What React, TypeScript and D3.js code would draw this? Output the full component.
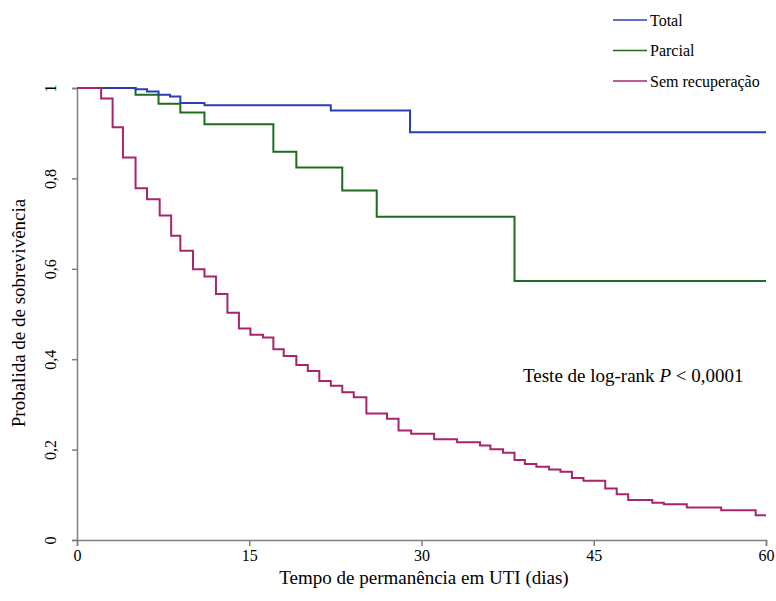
import React, { useEffect, useRef } from 'react';
import * as d3 from 'd3';

// Kaplan-Meier steps (days, survival)
const totalDays = [0, 5.1, 6.1, 7.1, 8.1, 9.0, 11.1, 22.1, 29.0, 60];
const totalSurv = [1, 0.997, 0.992, 0.985, 0.981, 0.967, 0.962, 0.95, 0.902, 0.902];

const parcialDays = [0, 5.1, 7.1, 9.0, 11.1, 17.1, 19.1, 23.1, 26.1, 38.1, 60];
const parcialSurv = [1, 0.985, 0.965, 0.946, 0.92, 0.859, 0.824, 0.773, 0.715, 0.573, 0.573];

const semDays = [0, 2.1, 3.1, 4.0, 5.1, 6.1, 7.2, 8.2, 9.0, 10.1, 11.1, 12.1, 13.1, 14.1, 15.1, 16.2,
  17.1, 18.0, 19.1, 20.1, 21.1, 22.1, 23.1, 24.1, 25.2, 27.0, 28.0, 29.1, 31.1, 33.1, 35.1, 36.0,
  37.1, 38.1, 39.0, 40.0, 41.1, 42.1, 43.1, 44.1, 46.0, 47.0, 48.0, 50.1, 51.1, 53.1, 56.1, 59.1, 60];
const semSurv = [1, 0.977, 0.913, 0.846, 0.778, 0.754, 0.718, 0.673, 0.64, 0.599, 0.583, 0.544, 0.503,
  0.468, 0.454, 0.448, 0.422, 0.407, 0.387, 0.374, 0.352, 0.341, 0.327, 0.316, 0.28, 0.268, 0.242,
  0.235, 0.223, 0.216, 0.209, 0.201, 0.193, 0.177, 0.168, 0.162, 0.156, 0.151, 0.137, 0.131, 0.114,
  0.101, 0.0885, 0.0826, 0.079, 0.072, 0.066, 0.055, 0.055];

const seriesNames = ['Total', 'Parcial', 'Sem recuperação'];
const seriesColors = ['#2a3fb4', '#1f6b1f', '#a8246c'];
const xTicks = [0, 15, 30, 45, 60];
const yTicks = [0, 0.2, 0.4, 0.6, 0.8, 1];

const App = () => {
  const svgRef = useRef(null);

  useEffect(() => {
    const svg = d3.select(svgRef.current);
    svg.selectAll('*').remove();
    const font = '"Liberation Serif", "Times New Roman", serif';

    const x = d3.scaleLinear().domain([0, 60]).range([77, 766]);
    const y = d3.scaleLinear().domain([0, 1]).range([540, 88]);

    // axes
    const axisColor = '#7f7f7f';
    const xAxis = svg.append('g').attr('transform', 'translate(0,540)')
      .call(d3.axisBottom(x).tickValues(xTicks).tickSize(6).tickFormat(d => String(d)));
    const yAxis = svg.append('g').attr('transform', 'translate(77,0)')
      .call(d3.axisLeft(y).tickValues(yTicks).tickSize(5).tickFormat(d => d === 0 || d === 1 ? String(d) : d3.format('.1f')(d).replace('.', ',')));
    [xAxis, yAxis].forEach(g => {
      g.select('.domain').attr('stroke', axisColor).attr('stroke-width', 1.5);
      g.selectAll('.tick line').attr('stroke', axisColor).attr('stroke-width', 1.5);
      g.selectAll('text').attr('font-family', font).attr('font-size', 16).attr('fill', '#000');
    });
    xAxis.selectAll('text').attr('y', 10);
    yAxis.selectAll('.tick text')
      .attr('x', 0).attr('dy', 0)
      .attr('text-anchor', 'middle')
      .attr('transform', 'translate(-25,0) rotate(-90)')
      .attr('dominant-baseline', 'middle');

    // curves
    const curves = [
      totalDays.map((d, i) => [d, totalSurv[i]]),
      parcialDays.map((d, i) => [d, parcialSurv[i]]),
      semDays.map((d, i) => [d, semSurv[i]]),
    ];
    const line = d3.line().x(d => x(d[0])).y(d => y(d[1])).curve(d3.curveStepAfter);
    // draw in order so that lower curves don't hide the top one at 1
    [1, 0, 2].forEach(i => {
      svg.append('path')
        .attr('d', line(curves[i]))
        .attr('fill', 'none')
        .attr('stroke', seriesColors[i])
        .attr('stroke-width', 2);
    });

    // legend
    const legend = svg.append('g');
    seriesNames.forEach((name, i) => {
      const ly = 20 + i * 30.5;
      legend.append('line').attr('x1', 613).attr('x2', 647).attr('y1', ly).attr('y2', ly)
        .attr('stroke', seriesColors[i]).attr('stroke-width', 1.5);
      legend.append('text').attr('x', 650).attr('y', ly).attr('dy', '0.35em')
        .attr('font-family', font).attr('font-size', 16).text(name);
    });

    // annotation
    const note = svg.append('text').attr('x', 523).attr('y', 382)
      .attr('font-family', font).attr('font-size', 19);
    note.append('tspan').text('Teste de log-rank ');
    note.append('tspan').attr('font-style', 'italic').text('P');
    note.append('tspan').text(' < 0,0001');

    // axis titles
    svg.append('text').attr('x', 424).attr('y', 584).attr('text-anchor', 'middle')
      .attr('font-family', font).attr('font-size', 19).text('Tempo de permanência em UTI (dias)');
    svg.append('text').attr('transform', 'translate(25,313) rotate(-90)').attr('text-anchor', 'middle')
      .attr('font-family', font).attr('font-size', 19).text('Probalida de de sobrevivência');
  }, []);

  return (
    <svg ref={svgRef} width={776} height={601}
      style={{ position: 'absolute', left: 0, top: 0, background: '#fff' }} />
  );
};

export default App;
